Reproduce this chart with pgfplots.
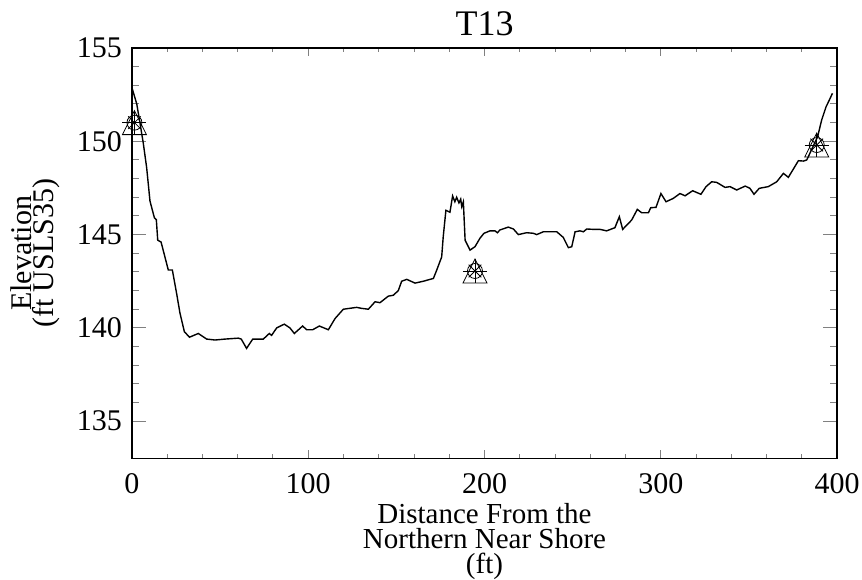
\documentclass[border=0pt]{standalone}
\usepackage{pgfplots}
\pgfplotsset{compat=1.18}
\usepackage{fontspec}
\setmainfont{Liberation Serif}
\pgfdeclareplotmark{idltri}{%
  \pgfpathmoveto{\pgfqpoint{-\pgfplotmarksize}{-\pgfplotmarksize}}%
  \pgfpathlineto{\pgfqpoint{0pt}{\pgfplotmarksize}}%
  \pgfpathlineto{\pgfqpoint{\pgfplotmarksize}{-\pgfplotmarksize}}%
  \pgfpathclose\pgfusepathqstroke}
\pgfdeclareplotmark{idlx}{%
  \pgfpathmoveto{\pgfqpoint{-0.7\pgfplotmarksize}{-0.7\pgfplotmarksize}}%
  \pgfpathlineto{\pgfqpoint{0.7\pgfplotmarksize}{0.7\pgfplotmarksize}}%
  \pgfpathmoveto{\pgfqpoint{-0.7\pgfplotmarksize}{0.7\pgfplotmarksize}}%
  \pgfpathlineto{\pgfqpoint{0.7\pgfplotmarksize}{-0.7\pgfplotmarksize}}%
  \pgfusepathqstroke}
\pgfplotstableread{
x y
0.2 152.8
2.7 152.0
4.5 151.0
6.4 149.9
8.3 148.6
10.2 146.8
12.7 145.9
13.8 145.8
14.6 144.7
16.5 144.6
20.6 143.1
22.9 143.1
25.4 141.8
27.2 140.8
29.7 139.8
32.6 139.5
37.6 139.7
42.4 139.4
47.1 139.35
52.8 139.4
60.3 139.45
62.0 139.4
65.0 138.9
68.5 139.4
74.5 139.4
77.9 139.7
79.2 139.6
82.1 140.0
86.4 140.2
89.6 140.0
92.1 139.7
96.8 140.1
99.1 139.9
102.5 139.9
106.3 140.1
111.4 139.9
115.2 140.5
119.9 141.0
127.5 141.1
130 141.05
134.1 141.0
137.9 141.4
140.7 141.35
145.4 141.7
148.3 141.75
151.1 142.0
153 142.5
155.9 142.6
160.6 142.4
165.3 142.5
171 142.65
172.9 143.1
175.7 143.8
176.6 144.9
178.1 146.3
180.4 146.2
181.9 147.07
183.2 146.76
184.2 147.0
185.5 146.7
186.5 146.9
187.1 146.5
188 146.76
189 144.7
191.8 144.17
194.6 144.35
197.4 144.8
199.7 145.07
203.1 145.2
206 145.2
207.3 145.1
208.8 145.25
213.5 145.4
216.4 145.3
219.2 145.0
223.9 145.1
227.7 145.07
229.6 145.0
233.4 145.15
241 145.15
244.7 144.85
247.6 144.3
249.5 144.35
251.4 145.15
254.2 145.2
256.1 145.15
258 145.3
261.7 145.28
265.5 145.28
269.3 145.2
274 145.37
276.5 145.96
278.4 145.28
283.5 145.78
286.7 146.35
289.2 146.17
293 146.17
294.3 146.44
297.3 146.46
300.1 147.2
303 146.76
307.1 146.94
310.9 147.2
313.8 147.08
318.1 147.35
322.8 147.16
325.7 147.57
328.9 147.83
331.7 147.8
336.5 147.53
339.3 147.57
343.1 147.39
347.9 147.6
350.6 147.48
352.9 147.16
355.9 147.48
361 147.57
365.8 147.83
369.6 148.28
372.4 148.07
374.9 148.46
378.1 148.96
380.9 148.94
382.8 149.0
383.7 149.17
389 150.25
391.3 151.14
393.8 151.85
395.6 152.2
397.4 152.57
}\profile
\pgfplotstableread{
x y
1.4 151.0
194.6 143.05
388.5 149.8
}\marks
\begin{document}
\begin{tikzpicture}
\begin{axis}[
  scale only axis,
  width=705pt, height=410.5pt,
  xmin=0, xmax=400, ymin=133, ymax=155,
  xtick={0,100,200,300,400},
  ytick={135,140,145,150,155},
  minor x tick num=4, minor y tick num=4,
  tick align=inside,
  xtick pos=both, ytick pos=both,
  major tick length=14pt, minor tick length=7pt,
  xtick style={line width=1pt, /pgfplots/major tick length=8pt, /pgfplots/minor tick length=4pt},
  ytick style={line width=1pt},
  axis line style={line width=1.3pt},
  tick label style={font=\fontsize{30}{30}\selectfont, inner sep=0pt},
  /pgf/number format/assume math mode=true,
  xticklabel style={anchor=center, yshift=-25pt},
  yticklabel style={anchor=east, xshift=-10pt},
  title={T13},
  title style={font=\fontsize{36}{36}\selectfont, at={(axis description cs:0.5,1)}, anchor=center, yshift=18pt, inner sep=0pt},
  xlabel={Distance From the\\Northern Near Shore\\(ft)},
  ylabel={Elevation\\(ft USLS35)},
  every axis x label/.style={at={(axis description cs:0.5,0)}, anchor=center, yshift=-83pt, align=center, font=\fontsize{29}{25}\selectfont, inner sep=0pt},
  every axis y label/.style={at={(axis description cs:0,0.5)}, rotate=90, anchor=center, yshift=97pt, align=center, font=\fontsize{30}{21}\selectfont, inner sep=0pt},
  clip=false,
]
\addplot[black, line width=1.4pt, mark=none] table[x=x,y=y]{\profile};
\addplot[black, line width=0.8pt, only marks, mark=o, mark size=7.5pt] table[x=x,y=y]{\marks};
\addplot[black, line width=0.8pt, only marks, mark=idltri, mark size=12pt] table[x=x,y=y]{\marks};
\addplot[black, line width=0.8pt, only marks, mark=+, mark size=12pt] table[x=x,y=y]{\marks};
\addplot[black, line width=0.8pt, only marks, mark=idlx, mark size=9pt] table[x=x,y=y]{\marks};
\end{axis}
\path ([xshift=-132pt,yshift=-120.5pt]current axis.south west) rectangle ([xshift=25pt,yshift=48pt]current axis.north east);
\end{tikzpicture}
\end{document}
